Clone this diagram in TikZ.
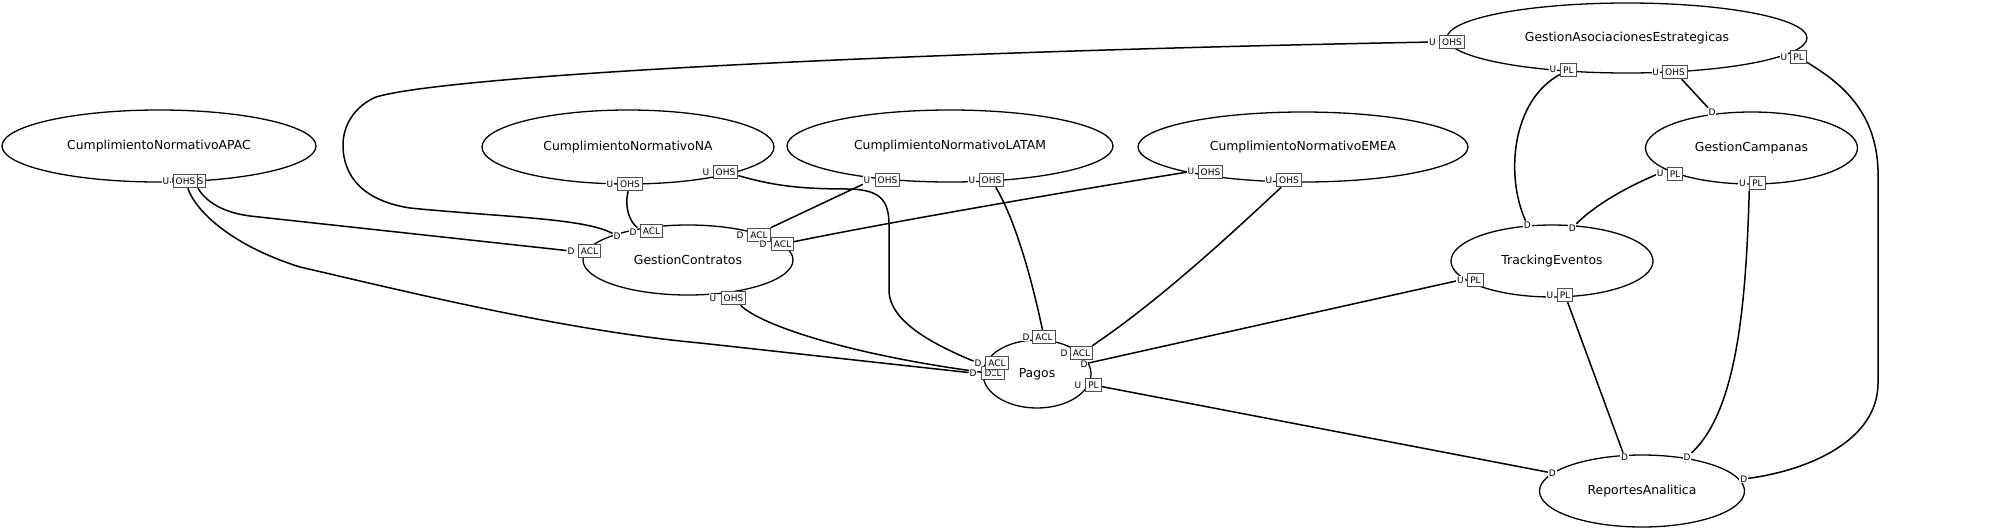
\documentclass[tikz,border=0pt]{standalone}
\usepackage{fontspec}
\setmainfont{DejaVu Sans}
\usetikzlibrary{shapes.geometric}
\pgfdeclarelayer{edgelayer}
\pgfsetlayers{edgelayer,main}
\tikzset{
  ctx/.style={ellipse, draw, line width=1.3pt, inner sep=0pt, font=\fontsize{12.4}{14}\selectfont},
  plet/.style={fill=white, inner sep=0.8pt, font=\fontsize{9}{10}\selectfont},
  pbox/.style={fill=white, draw=black!70, line width=1pt, inner xsep=2.5pt, inner ysep=0pt, minimum height=13.5pt, font=\fontsize{9}{10}\selectfont},
  rel/.style={line width=1.5pt},
}
\begin{document}
\begin{tikzpicture}[x=1pt,y=-1pt]
\useasboundingbox (0,0) rectangle (2000,531);
% bounded contexts
\node[ctx, minimum width=314pt, minimum height=72pt] (apac) at (159,146) {CumplimientoNormativoAPAC};
\node[ctx, minimum width=292pt, minimum height=74pt] (na) at (628,147) {CumplimientoNormativoNA};
\node[ctx, minimum width=326pt, minimum height=72pt] (lat) at (950,146) {CumplimientoNormativoLATAM};
\node[ctx, minimum width=330pt, minimum height=70pt] (emea) at (1303,147) {CumplimientoNormativoEMEA};
\node[ctx, minimum width=360pt, minimum height=70pt] (gae) at (1627,38) {GestionAsociacionesEstrategicas};
\node[ctx, minimum width=212pt, minimum height=72pt] (gca) at (1751.5,148) {GestionCampanas};
\node[ctx, minimum width=202pt, minimum height=72pt] (te) at (1552,261) {TrackingEventos};
\node[ctx, minimum width=205pt, minimum height=72pt] (ra) at (1642,491) {ReportesAnalitica};
\node[ctx, minimum width=210pt, minimum height=70pt] (gc) at (688,260) {GestionContratos};
\node[ctx, minimum width=108pt, minimum height=68pt] (pag) at (1037,374) {Pagos};
% ports: APAC
\node[plet] (apac2l) at (175,181) {U};
\node[pbox] (apac2b) at (193.5,181) {OHS};
\node[plet] (apac1l) at (166,181) {U};
\node[pbox] (apac1b) at (185.5,181) {OHS};
% NA
\node[plet] (na1l) at (610,184) {U};
\node[pbox] (na1b) at (630,184) {OHS};
\node[plet] (na2l) at (706,172) {U};
\node[pbox] (na2b) at (725.5,172) {OHS};
% LATAM
\node[plet] (lat1l) at (867,180) {U};
\node[pbox] (lat1b) at (887.5,180) {OHS};
\node[plet] (lat2l) at (972,180) {U};
\node[pbox] (lat2b) at (991.5,180) {OHS};
% EMEA
\node[plet] (em1l) at (1191,171.5) {U};
\node[pbox] (em1b) at (1210.5,172) {OHS};
\node[plet] (em2l) at (1269,180) {U};
\node[pbox] (em2b) at (1289,180) {OHS};
% GAE
\node[plet] (ga1l) at (1432.5,42) {U};
\node[pbox] (ga1b) at (1452,42) {OHS};
\node[plet] (ga2l) at (1553,69) {U};
\node[pbox] (ga2b) at (1568.4,70) {PL};
\node[plet] (ga3l) at (1655.6,72) {U};
\node[pbox] (ga3b) at (1675,72) {OHS};
\node[plet] (ga4l) at (1784,57) {U};
\node[pbox] (ga4b) at (1798.6,57) {PL};
% GestionCampanas
\node[plet] (gcaDl) at (1712,112) {D};
\node[plet] (gca1l) at (1660.2,173) {U};
\node[pbox] (gca1b) at (1675,174) {PL};
\node[plet] (gca2l) at (1742.5,183) {U};
\node[pbox] (gca2b) at (1757.5,183) {PL};
% TrackingEventos
\node[plet] (teD1l) at (1527.4,225) {D};
\node[plet] (teD2l) at (1572.2,228) {D};
\node[plet] (te1l) at (1460.5,280) {U};
\node[pbox] (te1b) at (1475.5,280) {PL};
\node[plet] (te2l) at (1550,295) {U};
\node[pbox] (te2b) at (1565,295) {PL};
% ReportesAnalitica
\node[plet] (raD1l) at (1552.3,473) {D};
\node[plet] (raD2l) at (1624.6,457) {D};
\node[plet] (raD3l) at (1687,457) {D};
\node[plet] (raD4l) at (1743.7,479) {D};
% GestionContratos
\node[plet] (gcDl) at (617,236) {D};
\node[plet] (gcA1l) at (571,251) {D};
\node[pbox] (gcA1b) at (589.5,251) {ACL};
\node[plet] (gcA2l) at (633,232) {D};
\node[pbox] (gcA2b) at (651.5,231) {ACL};
\node[plet] (gcA3l) at (740,235) {D};
\node[pbox] (gcA3b) at (759,235) {ACL};
\node[plet] (gcA4l) at (763,244) {D};
\node[pbox] (gcA4b) at (782.5,244) {ACL};
\node[plet] (gcUl) at (713,298) {U};
\node[pbox] (gcUb) at (733.5,298) {OHS};
% Pagos
\node[plet] (pgA1l) at (1026,337) {D};
\node[pbox] (pgA1b) at (1044,337) {ACL};
\node[plet] (pgDl) at (1084,364) {D};
\node[plet] (pgA2l) at (1064,353) {D};
\node[pbox] (pgA2b) at (1081.5,353) {ACL};
\node[plet] (pgUl) at (1078,385) {U};
\node[pbox] (pgUb) at (1093.5,385) {PL};
\node[plet] (pgA4l) at (973,373) {D};
\node[pbox] (pgA4b) at (993,373) {ACL};
\node[plet] (pgD2l) at (988,373) {D};
\node[plet] (pgA3l) at (978,363) {D};
\node[pbox] (pgA3b) at (997,363) {ACL};
% relations
\begin{pgfonlayer}{edgelayer}
\draw[rel] (apac2b) .. controls (205,200) and (220,212) .. (250,216) -- (gcA1l);
\draw[rel] (apac1b) .. controls (195,210) and (230,245) .. (300,267) .. controls (400,290) and (560,330) .. (700,343) -- (pgA4l);
\draw[rel] (gcUb) .. controls (760,325) and (850,355) .. (pgD2l);
\draw[rel] (na1b) .. controls (624,208) and (630,222) .. (gcA2l.north east);
\draw[rel] (na2b) .. controls (775,186) and (800,189) .. (850,189) .. controls (880,190) and (889,200) .. (889,225) -- (889,290) .. controls (889,322) and (935,345) .. (pgA3l);
\draw[rel] (ga1l) .. controls (900,52) and (450,75) .. (376,97) .. controls (355,106) and (343,125) .. (343,145) .. controls (343,178) and (365,201) .. (410,208) .. controls (500,217) and (585,218) .. (gcDl);
\draw[rel] (lat1l.south west) -- (gcA3b.north east);
\draw[rel] (lat2b) .. controls (1018,225) and (1034,290) .. (pgA1b);
\draw[rel] (em1l) .. controls (1100,186) and (900,220) .. (gcA4b);
\draw[rel] (em2b) .. controls (1230,235) and (1160,300) .. (pgA2b);
\draw[rel] (ga2b) .. controls (1512,100) and (1505,175) .. (teD1l);
\draw[rel] (ga3b) -- (gcaDl);
\draw[rel] (ga4b) .. controls (1832,78) and (1876,105) .. (1878,170) -- (1878,383) .. controls (1878,440) and (1810,470) .. (raD4l);
\draw[rel] (gca1l) .. controls (1620,190) and (1592,208) .. (teD2l);
\draw[rel] (gca2b.south west) .. controls (1746,300) and (1738,410) .. (raD3l);
\draw[rel] (te1l) -- (pgDl);
\draw[rel] (te2b) -- (raD2l);
\draw[rel] (pgUb) -- (raD1l);
\end{pgfonlayer}
\end{tikzpicture}
\end{document}
